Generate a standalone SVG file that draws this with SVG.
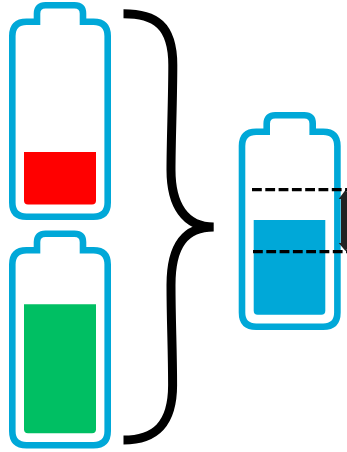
<svg xmlns="http://www.w3.org/2000/svg" width="347" height="452" viewBox="0 0 347 452">
<style>
.shell{fill:#fff;stroke:#00a8d8;stroke-width:6.6;stroke-linejoin:miter}
.brace{fill:none;stroke:#000;stroke-width:9}
.dash{fill:none;stroke:#000;stroke-width:3.2;stroke-dasharray:9.8 3.5}
</style>
<defs>
<path id="outline" d="M37 25V13.5Q37 5.2 45.5 5.2H74.5Q83 5.2 83 13.5V25V21.7H93.5Q107.7 21.7 107.7 36V202.5Q107.7 216.7 93.500 216.700H26.500Q12.300 216.700 12.300 202.500V36Q12.300 21.700 26.500 21.700H37Z"/>
</defs>
<rect width="347" height="452" fill="#fff"/>
<g id="battery-low">
<use href="#outline" class="shell"/>
<path d="M24 152H96V200.500Q96 204.500 92 204.500H28Q24 204.500 24 200.500Z" fill="#f00"/>
</g>
<g id="battery-high">
<use href="#outline" class="shell" y="228.500"/>
<path d="M24 304.300H96V429.300Q96 433.300 92 433.300H28Q24 433.300 24 429.300Z" fill="#00bf63"/>
</g>
<g id="battery-mid">
<use href="#outline" class="shell" x="229.700" y="110"/>
<path d="M253.700 220H325.300V310.700Q325.300 314.700 321.300 314.700H257.700Q253.700 314.700 253.700 310.700Z" fill="#00a8d8"/>
</g>
<g id="connectors">
<path class="brace" d="M123.500 13.800C155 13.800 172.800 25 172.800 65C172.800 100 171 140 171 170C171 205 185 227 213.700 227M213.700 227C185 227 171 245 171 285C171 320 172.600 350 172.600 385C172.600 425 155 440 123.500 440"/>
<path d="M345.500 190L352 199H349V243H352L345.500 251L338.700 243H341V199H338.700Z" fill="#222"/>
<path class="dash" d="M252 189.700H347"/>
<path class="dash" d="M253 251.700H347"/>
</g>
</svg>
